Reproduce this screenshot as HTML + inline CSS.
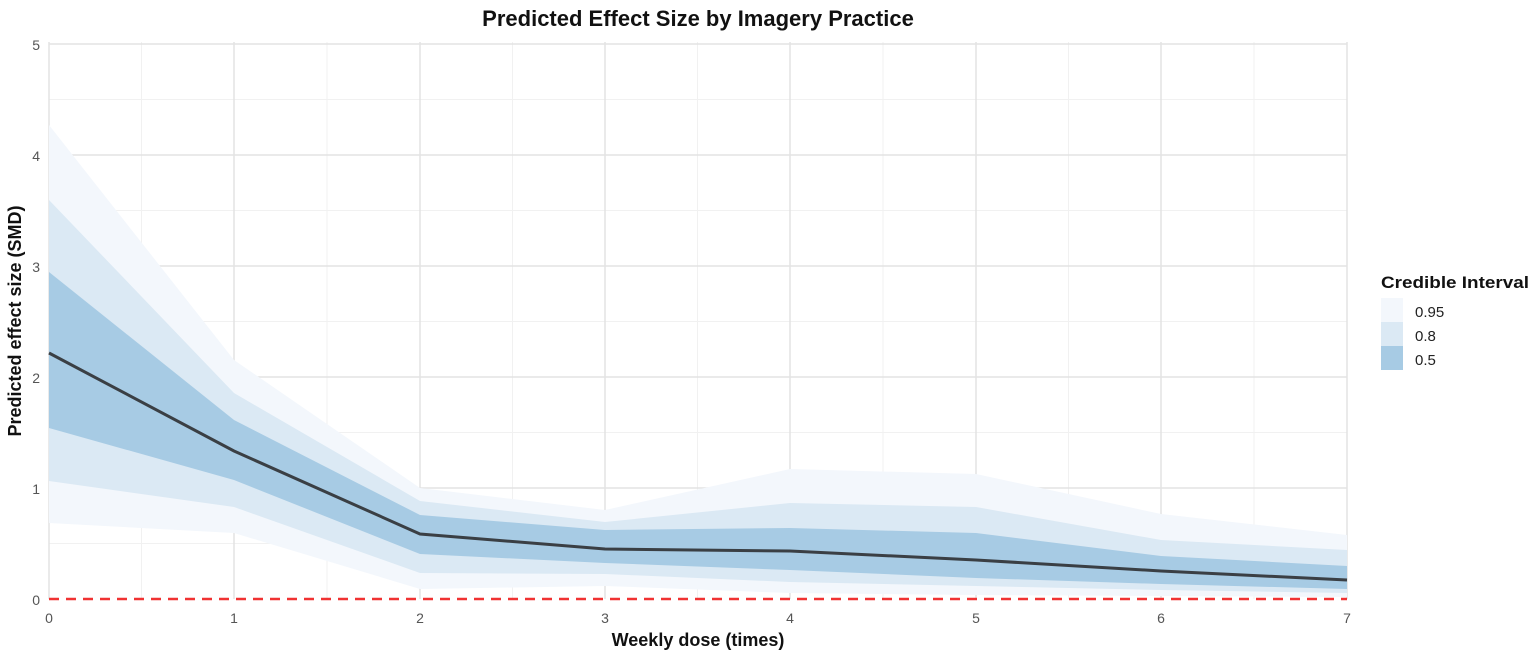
<!DOCTYPE html>
<html><head><meta charset="utf-8"><style>body{margin:0;background:#fff}svg{display:block}</style></head><body>
<svg width="1535" height="658" xmlns="http://www.w3.org/2000/svg" font-family="Liberation Sans, sans-serif">
<rect width="1535" height="658" fill="#fff"/>
<g stroke="#f1f1f1" stroke-width="1">
<line x1="141.5" y1="42" x2="141.5" y2="599"/><line x1="327" y1="42" x2="327" y2="599"/><line x1="512.5" y1="42" x2="512.5" y2="599"/><line x1="697.5" y1="42" x2="697.5" y2="599"/><line x1="883" y1="42" x2="883" y2="599"/><line x1="1068.5" y1="42" x2="1068.5" y2="599"/><line x1="1254" y1="42" x2="1254" y2="599"/>
<line x1="49" y1="543.5" x2="1347" y2="543.5"/><line x1="49" y1="432.5" x2="1347" y2="432.5"/><line x1="49" y1="321.5" x2="1347" y2="321.5"/><line x1="49" y1="210.5" x2="1347" y2="210.5"/><line x1="49" y1="99.5" x2="1347" y2="99.5"/>
</g>
<g stroke="#e3e3e3" stroke-width="1.5">
<line x1="49" y1="42" x2="49" y2="599"/><line x1="234" y1="42" x2="234" y2="599"/><line x1="420" y1="42" x2="420" y2="599"/><line x1="605" y1="42" x2="605" y2="599"/><line x1="790" y1="42" x2="790" y2="599"/><line x1="976" y1="42" x2="976" y2="599"/><line x1="1161" y1="42" x2="1161" y2="599"/><line x1="1347" y1="42" x2="1347" y2="599"/>
<line x1="49" y1="488" x2="1347" y2="488"/><line x1="49" y1="377" x2="1347" y2="377"/><line x1="49" y1="266" x2="1347" y2="266"/><line x1="49" y1="155" x2="1347" y2="155"/><line x1="49" y1="44" x2="1347" y2="44"/>
</g>
<polygon fill="#f3f7fc" points="49,125 234,360 420,488 605,510 790,469 976,474 1161,514 1347,535 1347,597 1161,596 976,595 790,593 605,586 420,589 234,533 49,523"/>
<polygon fill="#dbe9f4" points="49,200 234,393 420,501 605,522 790,503 976,507 1161,540 1347,550 1347,593 1161,590 976,586 790,582 605,574 420,573 234,507 49,481"/>
<polygon fill="#a7cbe4" points="49,272 234,420 420,515 605,530 790,528 976,533 1161,556 1347,566 1347,589 1161,584 976,578 790,570 605,563 420,554 234,480 49,428"/>
<line x1="49" y1="599" x2="1347" y2="599" stroke="#f03232" stroke-width="2.5" stroke-dasharray="10,7"/>
<polyline fill="none" stroke="#3a3f44" stroke-width="3" points="49,353 234,451 420,534 605,549 790,551 976,560 1161,571 1347,580"/>
<g fill="#555" font-size="14" text-anchor="end">
<text x="40" y="605">0</text><text x="40" y="494">1</text><text x="40" y="383">2</text><text x="40" y="272">3</text><text x="40" y="161">4</text><text x="40" y="50">5</text>
</g>
<g fill="#555" font-size="14" text-anchor="middle">
<text x="49" y="623">0</text><text x="234" y="623">1</text><text x="420" y="623">2</text><text x="605" y="623">3</text><text x="790" y="623">4</text><text x="976" y="623">5</text><text x="1161" y="623">6</text><text x="1347" y="623">7</text>
</g>
<text x="698" y="646" font-size="18" font-weight="bold" text-anchor="middle" fill="#111">Weekly dose (times)</text>
<text transform="translate(21,321) rotate(-90)" font-size="18" font-weight="bold" text-anchor="middle" fill="#111">Predicted effect size (SMD)</text>
<text x="698" y="26" font-size="22" font-weight="bold" text-anchor="middle" fill="#111">Predicted Effect Size by Imagery Practice</text>
<text x="1381" y="288" font-size="17" font-weight="bold" fill="#111" textLength="148" lengthAdjust="spacingAndGlyphs">Credible Interval</text>
<rect x="1381" y="298" width="22" height="24" fill="#f3f7fc"/>
<rect x="1381" y="322" width="22" height="24" fill="#dbe9f4"/>
<rect x="1381" y="346" width="22" height="24" fill="#a7cbe4"/>
<g font-size="15" fill="#222"><text x="1415" y="317">0.95</text><text x="1415" y="341">0.8</text><text x="1415" y="365">0.5</text></g>
</svg>
</body></html>
